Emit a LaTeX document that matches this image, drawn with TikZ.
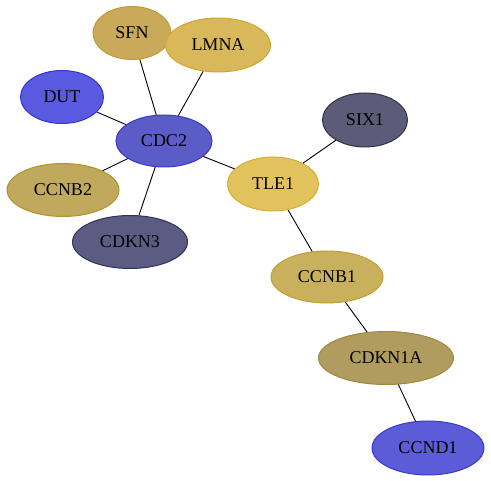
\documentclass[tikz,border=0pt]{standalone}
\usepackage{fontspec}
\setmainfont{Liberation Serif}
\usetikzlibrary{shapes.geometric}
\definecolor{fSFN}{HTML}{C8AA5A}\definecolor{sSFN}{HTML}{C09C38}
\definecolor{fLMNA}{HTML}{D8B85A}\definecolor{sLMNA}{HTML}{D0A830}
\definecolor{fDUT}{HTML}{5A5AE0}\definecolor{sDUT}{HTML}{3434D0}
\definecolor{fCDC}{HTML}{5C5CC8}\definecolor{sCDC}{HTML}{3838C8}
\definecolor{fSIX}{HTML}{5C5C78}\definecolor{sSIX}{HTML}{303050}
\definecolor{fCCNBt}{HTML}{C0A85C}\definecolor{sCCNBt}{HTML}{B09434}
\definecolor{fTLE}{HTML}{E2C25C}\definecolor{sTLE}{HTML}{D8B030}
\definecolor{fCDKN}{HTML}{5C5C82}\definecolor{sCDKN}{HTML}{303060}
\definecolor{fCCNBo}{HTML}{C8B05C}\definecolor{sCCNBo}{HTML}{C0A034}
\definecolor{fCDKNA}{HTML}{B09C5E}\definecolor{sCDKNA}{HTML}{A08840}
\definecolor{fCCND}{HTML}{5C5CD8}\definecolor{sCCND}{HTML}{3838D0}
\begin{document}
\begin{tikzpicture}[x=1pt,y=1pt,
  gene/.style={ellipse,inner sep=0pt,line width=1pt,font=\fontsize{18}{20}\selectfont,minimum height=53pt},
  link/.style={line width=0.9pt,black}]
\useasboundingbox (0,0) rectangle (491,-481);
\fill[white] (0,0) rectangle (491,-481);
\node[gene,fill=fSFN,draw=sSFN,minimum width=78pt] (sfn) at (132,-33) {SFN};
\node[gene,fill=fLMNA,draw=sLMNA,minimum width=105pt,minimum height=54pt] (lmna) at (218,-45) {LMNA};
\node[gene,fill=fDUT,draw=sDUT,minimum width=83pt] (dut) at (62,-97) {DUT};
\node[gene,fill=fCDC,draw=sCDC,minimum width=96pt,minimum height=52pt] (cdc2) at (164,-141) {CDC2};
\node[gene,fill=fSIX,draw=sSIX,minimum width=85pt,minimum height=54pt] (six1) at (365,-120) {SIX1};
\node[gene,fill=fCCNBt,draw=sCCNBt,minimum width=112pt] (ccnb2) at (63,-190) {CCNB2};
\node[gene,fill=fTLE,draw=sTLE,minimum width=91pt,minimum height=54pt] (tle1) at (273,-184) {TLE1};
\node[gene,fill=fCDKN,draw=sCDKN,minimum width=115pt] (cdkn3) at (130,-242) {CDKN3};
\node[gene,fill=fCCNBo,draw=sCCNBo,minimum width=112pt,minimum height=52pt] (ccnb1) at (327,-277) {CCNB1};
\node[gene,fill=fCDKNA,draw=sCDKNA,minimum width=135pt] (cdkn1a) at (386,-358) {CDKN1A};
\node[gene,fill=fCCND,draw=sCCND,minimum width=112pt,minimum height=54pt] (ccnd1) at (428,-448) {CCND1};
\draw[link] (sfn) -- (cdc2);
\draw[link] (lmna) -- (cdc2);
\draw[link] (dut) -- (cdc2);
\draw[link] (ccnb2) -- (cdc2);
\draw[link] (cdkn3) -- (cdc2);
\draw[link] (cdc2) -- (tle1);
\draw[link] (tle1) -- (six1);
\draw[link] (tle1) -- (ccnb1);
\draw[link] (ccnb1) -- (cdkn1a);
\draw[link] (cdkn1a) -- (ccnd1);
\end{tikzpicture}
\end{document}
